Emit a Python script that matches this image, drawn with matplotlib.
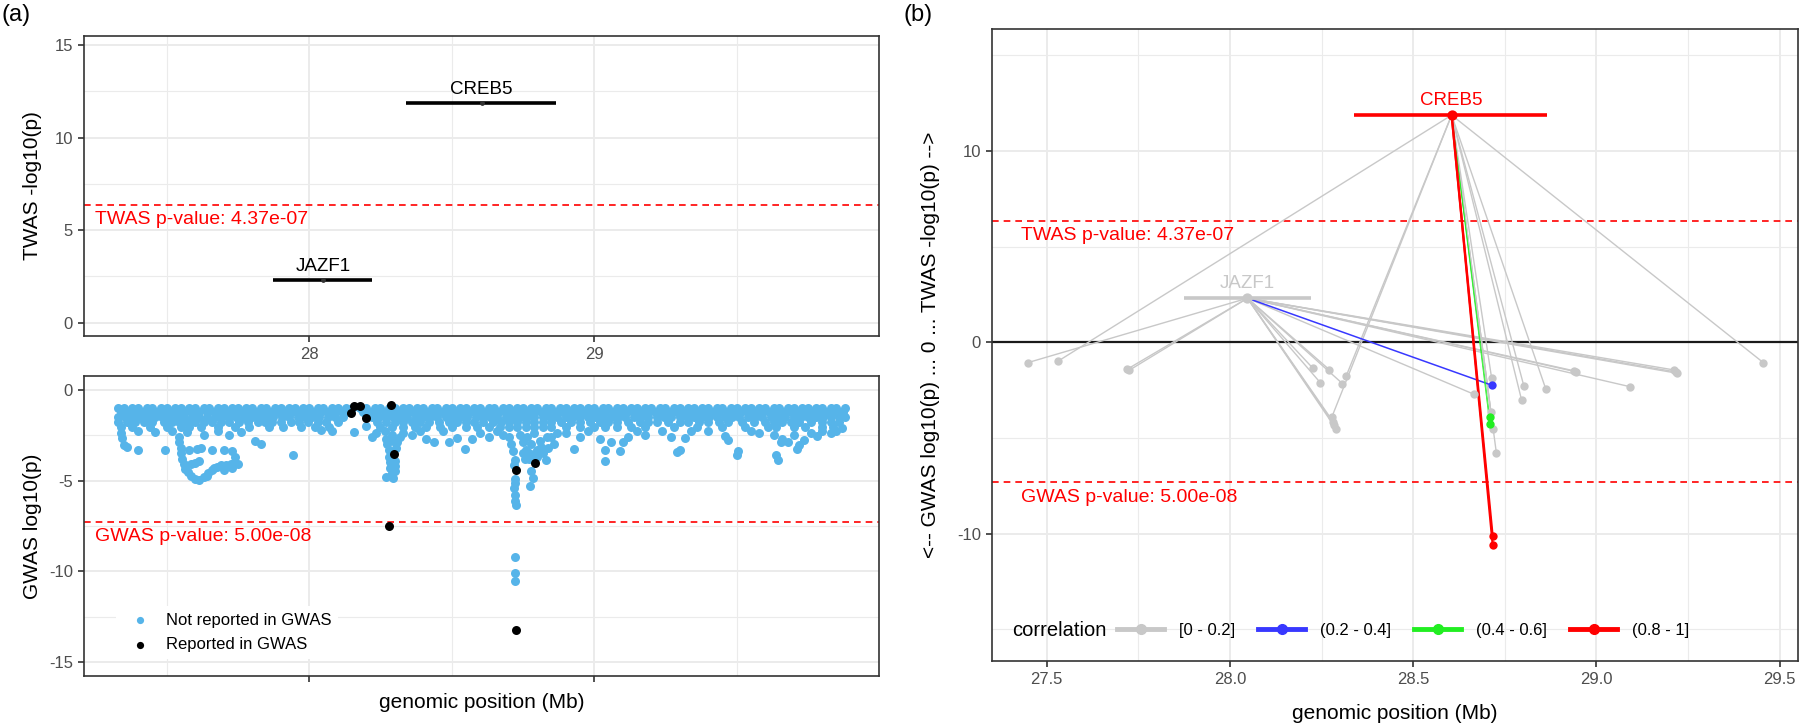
import matplotlib.pyplot as plt
from matplotlib.lines import Line2D
from matplotlib.ticker import MultipleLocator
import numpy as np

plt.rcParams['font.family'] = ['Liberation Sans', 'DejaVu Sans']
plt.rcParams['axes.unicode_minus'] = False

# ---- TWAS genes ----
genes = ['JAZF1', 'CREB5']
gene_start = [27.875, 28.340]
gene_end = [28.222, 28.865]
gene_mid = [28.048, 28.605]
gene_twas = [2.30, 11.87]
gene_colour_b = ['#C8C8C8', '#FF0000']

twas_p = 4.37e-07
gwas_p = 5.00e-08

# ---- GWAS SNPs (panel a, bottom) ----
# dense band near the p < 0.1 cut-off: one list of positions per log10(p) level
band_levels = [-1.0, -1.22, -1.48, -1.78, -2.08]
band_pos = [
    [27.33, 27.35, 27.38, 27.40, 27.43, 27.45, 27.48, 27.50, 27.53, 27.55, 27.58, 27.60,
     27.63, 27.65, 27.68, 27.70, 27.73, 27.75, 27.78, 27.80, 27.83, 27.85, 27.88, 27.90,
     27.93, 27.95, 27.98, 28.00, 28.03, 28.05, 28.08, 28.10, 28.13, 28.15, 28.18, 28.20,
     28.23, 28.25, 28.28, 28.30, 28.33, 28.35, 28.38, 28.40, 28.43, 28.45, 28.48, 28.50,
     28.53, 28.55, 28.58, 28.60, 28.63, 28.65, 28.68, 28.70, 28.73, 28.75, 28.78, 28.80,
     28.83, 28.85, 28.88, 28.90, 28.93, 28.95, 28.98, 29.00, 29.03, 29.05, 29.08, 29.10,
     29.13, 29.15, 29.18, 29.20, 29.23, 29.25, 29.28, 29.30, 29.33, 29.35, 29.38, 29.40,
     29.43, 29.45, 29.48, 29.50, 29.53, 29.55, 29.58, 29.60, 29.63, 29.65, 29.68, 29.70,
     29.73, 29.75, 29.78, 29.80, 29.83, 29.85, 29.88],
    [27.34, 27.365, 27.39, 27.415, 27.44, 27.465, 27.49, 27.515, 27.54, 27.565, 27.59,
     27.615, 27.64, 27.665, 27.69, 27.715, 27.74, 27.765, 27.79, 27.815, 27.84, 27.865,
     27.89, 27.915, 27.94, 27.965, 27.99, 28.015, 28.04, 28.065, 28.09, 28.115, 28.14,
     28.19, 28.215, 28.24, 28.265, 28.29, 28.315, 28.34, 28.365, 28.39, 28.415, 28.44,
     28.465, 28.49, 28.515, 28.54, 28.565, 28.59, 28.615, 28.64, 28.665, 28.69, 28.715,
     28.74, 28.765, 28.79, 28.815, 28.84, 28.865, 28.89, 28.915, 28.94, 28.965, 28.99,
     29.015, 29.04, 29.065, 29.09, 29.115, 29.14, 29.165, 29.19, 29.215, 29.24, 29.265,
     29.29, 29.315, 29.34, 29.365, 29.39, 29.415, 29.44, 29.465, 29.49, 29.515, 29.54,
     29.565, 29.59, 29.615, 29.64, 29.665, 29.69, 29.715, 29.74, 29.765, 29.79, 29.815,
     29.84, 29.865, 29.875],
    [27.33, 27.355, 27.38, 27.405, 27.43, 27.46, 27.485, 27.51, 27.535, 27.56, 27.59,
     27.615, 27.64, 27.67, 27.695, 27.72, 27.745, 27.77, 27.80, 27.825, 27.85, 27.875,
     27.905, 27.93, 27.96, 27.985, 28.01, 28.035, 28.065, 28.09, 28.12, 28.22, 28.245,
     28.27, 28.295, 28.32, 28.345, 28.375, 28.40, 28.425, 28.45, 28.48, 28.505, 28.53,
     28.555, 28.585, 28.61, 28.635, 28.66, 28.69, 28.715, 28.74, 28.765, 28.79, 28.82,
     28.845, 28.87, 28.90, 28.925, 28.95, 28.98, 29.005, 29.03, 29.06, 29.085, 29.11,
     29.14, 29.165, 29.19, 29.22, 29.245, 29.27, 29.30, 29.325, 29.35, 29.38, 29.405,
     29.43, 29.46, 29.485, 29.51, 29.54, 29.565, 29.59, 29.62, 29.645, 29.67, 29.70,
     29.725, 29.75, 29.78, 29.805, 29.83, 29.86, 29.88],
    [27.33, 27.36, 27.39, 27.42, 27.45, 27.49, 27.52, 27.545, 27.57, 27.60, 27.63, 27.66,
     27.69, 27.72, 27.755, 27.785, 27.82, 27.845, 27.87, 27.90, 27.935, 27.965, 27.995,
     28.03, 28.06, 28.10, 28.24, 28.27, 28.30, 28.33, 28.36, 28.39, 28.42, 28.455, 28.49,
     28.52, 28.55, 28.58, 28.61, 28.645, 28.675, 28.70, 28.73, 28.76, 28.79, 28.82, 28.85,
     28.885, 28.92, 28.95, 28.985, 29.02, 29.05, 29.08, 29.12, 29.16, 29.19, 29.22, 29.26,
     29.30, 29.33, 29.37, 29.40, 29.44, 29.47, 29.52, 29.56, 29.60, 29.63, 29.66, 29.69,
     29.72, 29.76, 29.80, 29.83, 29.86],
    [27.34, 27.38, 27.44, 27.50, 27.55, 27.58, 27.62, 27.68, 27.74, 27.79, 27.86, 27.91,
     27.97, 28.02, 28.07, 28.25, 28.29, 28.33, 28.37, 28.41, 28.46, 28.50, 28.55, 28.59,
     28.63, 28.67, 28.70, 28.73, 28.76, 28.79, 28.82, 28.85, 28.90, 28.95, 29.00, 29.04,
     29.08, 29.13, 29.18, 29.28, 29.36, 29.45, 29.53, 29.61, 29.64, 29.70, 29.74, 29.80,
     29.84],
]

# scattered SNPs below the band (position Mb, log10 p), not reported in GWAS
gwas_extra = [
    (27.34, -2.40), (27.345, -2.65), (27.35, -3.05), (27.362, -3.13), (27.40, -3.33),
    (27.40, -2.30), (27.46, -2.35), (27.496, -3.30), (27.52, -2.30),
    (27.545, -2.60), (27.545, -2.90), (27.55, -3.20), (27.55, -3.50), (27.555, -3.80),
    (27.56, -4.10), (27.565, -4.35), (27.575, -4.55), (27.585, -4.75), (27.60, -4.90),
    (27.615, -4.95), (27.63, -4.80), (27.645, -4.60), (27.64, -4.73), (27.66, -4.40),
    (27.675, -4.25), (27.69, -4.15), (27.71, -4.15), (27.725, -4.10), (27.74, -4.05),
    (27.75, -4.10), (27.585, -4.10), (27.60, -4.05), (27.615, -3.95), (27.577, -3.30),
    (27.606, -3.24), (27.62, -3.20), (27.658, -3.30), (27.70, -3.30), (27.73, -3.40),
    (27.74, -3.70), (27.57, -2.35), (27.63, -2.50), (27.68, -2.30), (27.72, -2.50),
    (27.76, -2.35), (27.665, -4.30), (27.70, -4.40), (27.73, -4.30),
    (27.81, -2.84), (27.83, -3.00), (27.943, -3.57), (28.04, -2.20), (28.08, -2.30),
    (28.156, -2.34), (28.20, -2.00), (28.22, -2.60), (28.235, -2.40),
    (28.265, -2.30), (28.27, -2.70), (28.275, -3.00), (28.28, -3.30), (28.28, -3.70),
    (28.285, -4.00), (28.285, -4.30), (28.29, -4.60), (28.27, -4.80), (28.295, -4.85),
    (28.30, -4.50), (28.30, -4.20), (28.30, -3.90), (28.305, -3.20), (28.31, -2.90),
    (28.32, -2.60), (28.29, -2.50), (28.295, -2.85),
    (28.33, -2.40), (28.36, -2.50), (28.39, -2.30), (28.41, -2.70), (28.44, -2.90),
    (28.47, -2.30), (28.492, -2.90), (28.52, -2.65), (28.547, -3.24), (28.57, -2.69),
    (28.60, -2.40), (28.63, -2.60), (28.66, -2.30), (28.68, -2.50),
    (28.70, -2.60), (28.71, -3.00), (28.715, -3.40), (28.721, -3.85), (28.72, -4.15),
    (28.722, -4.90), (28.722, -5.13), (28.72, -5.40), (28.722, -5.82), (28.724, -6.10),
    (28.725, -6.32), (28.722, -9.23), (28.722, -10.11), (28.722, -10.51),
    (28.74, -2.50), (28.75, -2.90), (28.76, -3.30), (28.759, -3.81), (28.77, -3.50),
    (28.78, -3.00), (28.79, -3.60), (28.80, -3.30), (28.81, -2.80), (28.82, -3.50),
    (28.83, -3.85), (28.84, -3.20), (28.85, -2.60), (28.86, -3.00), (28.87, -2.40),
    (28.774, -5.31), (28.785, -4.85), (28.78, -4.50), (28.77, -3.80), (28.80, -3.70),
    (28.75, -3.50), (28.765, -2.60), (28.79, -2.40), (28.815, -3.15), (28.835, -2.60),
    (28.90, -2.40), (28.93, -3.26), (28.95, -2.60), (28.98, -2.30), (29.02, -2.70),
    (29.037, -3.90), (29.04, -3.30), (29.06, -2.90), (29.092, -3.39), (29.10, -2.90),
    (29.12, -2.60), (29.15, -2.30), (29.18, -2.50),
    (29.24, -2.30), (29.27, -2.60), (29.29, -3.44), (29.30, -3.30), (29.319, -2.65),
    (29.34, -2.30), (29.40, -2.30), (29.458, -2.56), (29.47, -2.75), (29.50, -3.57),
    (29.505, -3.40), (29.55, -2.30), (29.58, -2.40),
    (29.63, -2.50), (29.645, -3.85), (29.64, -3.60), (29.655, -2.90), (29.66, -2.70),
    (29.68, -2.90), (29.70, -2.50), (29.712, -3.26), (29.72, -3.05), (29.737, -2.75),
    (29.76, -2.40), (29.784, -2.56), (29.80, -2.30), (29.83, -2.38), (29.85, -2.30),
    (29.87, -2.10),
]

# SNPs reported in GWAS
gwas_reported = [
    (28.146, -1.28), (28.158, -0.88), (28.178, -0.88), (28.200, -1.58), (28.289, -0.86),
    (28.297, -3.52), (28.281, -7.51), (28.727, -4.40), (28.793, -4.05), (28.725, -13.2),
]

# ---- panel b: gene -> SNP links ----
link_gene = [0, 0, 0, 0, 0, 0, 0, 0, 0, 0, 0, 0, 0, 0, 0, 0, 0, 0,
             1, 1, 1, 1, 1, 1, 1, 1, 1, 1, 1, 1, 1, 1, 1]
link_pos = [27.450, 27.720, 27.725, 28.227, 28.271, 28.247, 28.307, 28.282, 28.285,
            28.289, 28.666, 28.715, 28.940, 28.945, 29.093, 29.212, 29.216, 29.220,
            27.532, 28.317, 28.278, 28.714, 28.802, 28.862, 28.796, 28.712, 28.718,
            28.727, 29.455, 28.709, 28.709, 28.717, 28.717]
link_logp = [-1.06, -1.41, -1.47, -1.37, -1.43, -2.12, -2.16, -4.16, -4.32,
             -4.51, -2.72, -2.25, -1.50, -1.55, -2.33, -1.45, -1.55, -1.62,
             -0.98, -1.78, -3.92, -1.86, -2.28, -2.45, -3.03, -3.65, -4.51,
             -5.78, -1.06, -3.92, -4.27, -10.14, -10.58]
link_bin = [0, 0, 0, 0, 0, 0, 0, 0, 0, 0, 0, 1, 0, 0, 0, 0, 0, 0,
            0, 0, 0, 0, 0, 0, 0, 0, 0, 0, 0, 2, 2, 3, 3]
bins = ['[0 - 0.2]', '(0.2 - 0.4]', '(0.4 - 0.6]', '(0.8 - 1]']
bin_colours = ['#C8C8C8', '#3838FF', '#22EE22', '#FF0000']
bin_lw = [1.0, 1.1, 0.55, 1.6]

# ---- style ----
BORDER = '#333333'
GRID = '#EBEBEB'
TICKTXT = '#4D4D4D'
RED = '#FF0000'


def style_axes(ax):
    for s in ax.spines.values():
        s.set_color(BORDER)
        s.set_linewidth(1.2)
    ax.grid(which='major', color=GRID, lw=1.4, zorder=0)
    ax.grid(which='minor', color=GRID, lw=0.8, zorder=0)
    ax.set_axisbelow(True)
    ax.tick_params(which='major', direction='out', length=4.5, width=1.2,
                   color=BORDER, labelcolor=TICKTXT, labelsize=12)
    ax.tick_params(which='minor', length=0)


fig = plt.figure(figsize=(18, 7.24), dpi=100)
ax_t = fig.add_axes([84 / 1800, 388 / 724, 795 / 1800, 300 / 724])
ax_g = fig.add_axes([84 / 1800, 48 / 724, 795 / 1800, 300 / 724])
ax_b = fig.add_axes([992 / 1800, 63 / 724, 806 / 1800, 632 / 724])

twas_line = -np.log10(twas_p)
gwas_line = np.log10(gwas_p)
twas_txt = f'TWAS p-value: {twas_p:.2e}'
gwas_txt = f'GWAS p-value: {gwas_p:.2e}'

# ---- (a) top: TWAS ----
ax_t.hlines(gene_twas, gene_start, gene_end, colors='black', lw=2.6, zorder=3)
ax_t.scatter(gene_mid, gene_twas, s=6, color='#333333', zorder=4)
for g, m, t in zip(genes, gene_mid, gene_twas):
    ax_t.text(m, t + 0.3, g, ha='center', va='bottom', fontsize=13.5, color='black')
ax_t.axhline(twas_line, color=RED, ls=(0, (4, 3)), lw=1.2, zorder=2)
ax_t.text(27.25, twas_line - 0.8, twas_txt, color=RED, fontsize=14, va='center')
ax_t.set_xlim(27.21, 30.0)
ax_t.set_ylim(-0.72, 15.5)
ax_t.set_xticks([28, 29])
ax_t.xaxis.set_minor_locator(MultipleLocator(0.5))
ax_t.set_yticks([0, 5, 10, 15])
ax_t.yaxis.set_minor_locator(MultipleLocator(2.5))
style_axes(ax_t)
ax_t.set_ylabel('TWAS -log10(p)', fontsize=15)
ax_t.yaxis.set_label_coords(-0.053, 0.5)

# ---- (a) bottom: GWAS ----
band_x = [x for row in band_pos for x in row]
band_y = [lv for lv, row in zip(band_levels, band_pos) for _ in row]
ex_x = [p for p, _ in gwas_extra]
ex_y = [v for _, v in gwas_extra]
ax_g.scatter(band_x + ex_x, band_y + ex_y, s=42, color='#56B4E9', lw=0, zorder=3,
             label='Not reported in GWAS')
ax_g.scatter([p for p, _ in gwas_reported], [v for _, v in gwas_reported], s=42,
             color='black', lw=0, zorder=4, label='Reported in GWAS')
ax_g.axhline(gwas_line, color=RED, ls=(0, (4, 3)), lw=1.2, zorder=2)
ax_g.text(27.25, gwas_line - 0.8, gwas_txt, color=RED, fontsize=14, va='center')
ax_g.set_xlim(27.21, 30.0)
ax_g.set_ylim(-15.75, 0.75)
ax_g.set_xticks([28, 29])
ax_g.set_xticklabels([])
ax_g.xaxis.set_minor_locator(MultipleLocator(0.5))
ax_g.set_yticks([0, -5, -10, -15])
ax_g.yaxis.set_minor_locator(MultipleLocator(2.5))
style_axes(ax_g)
ax_g.set_ylabel('GWAS log10(p)', fontsize=15)
ax_g.yaxis.set_label_coords(-0.053, 0.5)
ax_g.set_xlabel('genomic position (Mb)', fontsize=15)
ax_g.xaxis.set_label_coords(0.5, -0.055)
leg = ax_g.legend(loc='lower left', bbox_to_anchor=(0.03, 0.03), fontsize=12,
                  frameon=True, facecolor='white', edgecolor='none', framealpha=1,
                  handletextpad=0.6, labelspacing=0.55, markerscale=0.8,
                  borderpad=0.4)

# ---- (b) combined ----
ax_b.axhline(0, color='#1A1A1A', lw=1.6, zorder=1.5)
order = sorted(range(len(link_pos)), key=lambda i: link_bin[i])
for i in order:
    g = link_gene[i]
    b = link_bin[i]
    ax_b.plot([gene_mid[g], link_pos[i]], [gene_twas[g], link_logp[i]],
              color=bin_colours[b], lw=bin_lw[b], zorder=2 + b * 0.1)
for i in order:
    b = link_bin[i]
    ax_b.scatter(link_pos[i], link_logp[i], s=36, color=bin_colours[b], lw=0,
                 zorder=3 + b * 0.1)
for g in range(len(genes)):
    ax_b.hlines(gene_twas[g], gene_start[g], gene_end[g], colors=gene_colour_b[g],
                lw=2.6, zorder=4)
    ax_b.scatter(gene_mid[g], gene_twas[g], s=55, color=gene_colour_b[g], lw=0, zorder=5)
    ax_b.text(gene_mid[g], gene_twas[g] + 0.3, genes[g], ha='center', va='bottom',
              fontsize=13.5, color=gene_colour_b[g])
ax_b.axhline(twas_line, color=RED, ls=(0, (4, 3)), lw=1.2, zorder=1.6)
ax_b.axhline(gwas_line, color=RED, ls=(0, (4, 3)), lw=1.2, zorder=1.6)
ax_b.text(27.43, twas_line - 0.8, twas_txt, color=RED, fontsize=14, va='center')
ax_b.text(27.43, gwas_line - 0.8, gwas_txt, color=RED, fontsize=14, va='center')
ax_b.set_xlim(27.351, 29.55)
ax_b.set_ylim(-16.66, 16.37)
ax_b.set_xticks([27.5, 28.0, 28.5, 29.0, 29.5])
ax_b.set_xticklabels(['27.5', '28.0', '28.5', '29.0', '29.5'])
ax_b.xaxis.set_minor_locator(MultipleLocator(0.25))
ax_b.set_yticks([-10, 0, 10])
ax_b.yaxis.set_minor_locator(MultipleLocator(5))
style_axes(ax_b)
ax_b.set_ylabel('<-- GWAS log10(p) ... 0 ... TWAS -log10(p) -->', fontsize=15)
ax_b.yaxis.set_label_coords(-0.064, 0.5)
ax_b.set_xlabel('genomic position (Mb)', fontsize=15)
ax_b.xaxis.set_label_coords(0.5, -0.068)

handles = [Line2D([0], [0], color=c, lw=3.5, marker='o', markersize=7)
           for c in bin_colours]
ax_b.text(0.025, 0.049, 'correlation', transform=ax_b.transAxes, fontsize=14.5,
          va='center', ha='left', color='black')
ax_b.legend(handles, bins, loc='center left', bbox_to_anchor=(0.145, 0.049), ncol=4,
            fontsize=12, frameon=False, handlelength=2.8, handletextpad=0.9,
            columnspacing=1.4, borderpad=0)

fig.text(0.001, 0.995, '(a)', fontsize=17, va='top', ha='left')
fig.text(0.502, 0.995, '(b)', fontsize=17, va='top', ha='left')

fig.savefig('out.png', dpi=100)
